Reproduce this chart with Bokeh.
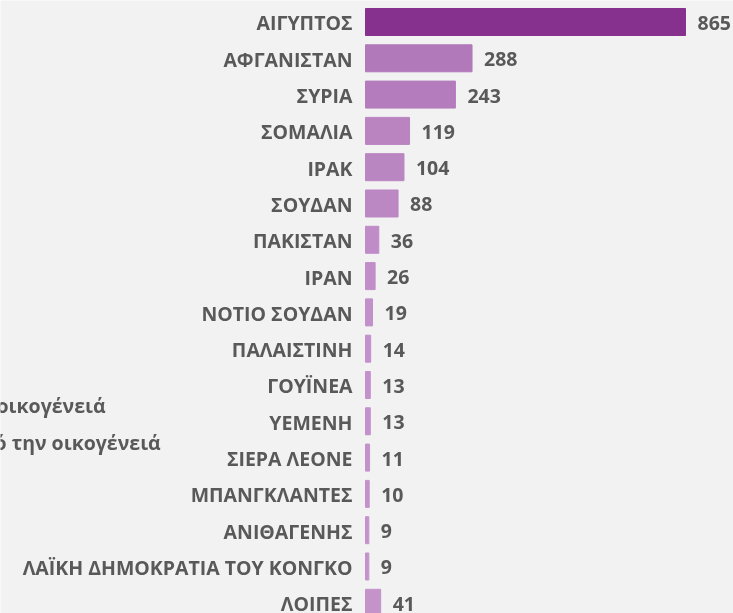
from bokeh.plotting import figure
from bokeh.models import ColumnDataSource, Range1d, Label
from bokeh.core.properties import value
from bokeh.embed import file_html
from bokeh.resources import INLINE

countries = ["ΑΙΓΥΠΤΟΣ", "ΑΦΓΑΝΙΣΤΑΝ", "ΣΥΡΙΑ", "ΣΟΜΑΛΙΑ", "ΙΡΑΚ", "ΣΟΥΔΑΝ",
             "ΠΑΚΙΣΤΑΝ", "ΙΡΑΝ", "ΝΟΤΙΟ ΣΟΥΔΑΝ", "ΠΑΛΑΙΣΤΙΝΗ", "ΓΟΥΪΝΕΑ",
             "ΥΕΜΕΝΗ", "ΣΙΕΡΑ ΛΕΟΝΕ", "ΜΠΑΝΓΚΛΑΝΤΕΣ", "ΑΝΙΘΑΓΕΝΗΣ",
             "ΛΑΪΚΗ ΔΗΜΟΚΡΑΤΙΑ ΤΟΥ ΚΟΝΓΚΟ", "ΛΟΙΠΕΣ"]
counts = [865, 288, 243, 119, 104, 88, 36, 26, 19, 14, 13, 13, 11, 10, 9, 9, 41]
legend_texts = ["οικογένειά", "ό την οικογένειά"]

bar_colors = ["#87318E", "#B279BA", "#B47CBC", "#B984C0", "#BA86C1", "#BB88C3",
              "#C08CC8", "#C18EC9", "#C290CA", "#C391CB", "#C391CB", "#C391CB",
              "#C492CB", "#C492CB", "#C593CC", "#C593CC", "#C393CA"]

TEXT = "#595959"
FONT = value("Open Sans")
FS = "19.5px"

rows = list(range(len(countries)))
src = ColumnDataSource(dict(y=rows, v=counts, name=countries, c=bar_colors,
                            lab=[str(v) for v in counts]))

W, H = 733, 613
p = figure(width=W, height=H, output_backend="svg", toolbar_location=None,
           x_range=Range1d(-986.7, 994.8), y_range=Range1d(16.295, -0.592),
           min_border=0, background_fill_color="#F2F2F2",
           border_fill_color="#F2F2F2", outline_line_color=None,
           styles={"position": "fixed", "left": "0px", "top": "0px"})
p.axis.visible = False
p.grid.visible = False

p.hbar(y="y", left=0, right="v", height=0.744, fill_color="c",
       line_color="c", source=src)

p.text(x=0, y="y", text="name", x_offset=-13, y_offset=1, text_align="right",
       text_baseline="middle", text_font=FONT, text_font_style="bold",
       text_font_size=FS, text_color=TEXT, source=src)
p.text(x="v", y="y", text="lab", x_offset=12, y_offset=1, text_align="left",
       text_baseline="middle", text_font=FONT, text_font_style="bold",
       text_font_size=FS, text_color=TEXT, source=src)

for txt, xs, ys in zip(legend_texts, [-4, -6], [H - 405, H - 442]):
    p.add_layout(Label(x=xs, y=ys, x_units="screen", y_units="screen", text=txt,
                       text_font="Open Sans", text_font_style="bold",
                       text_font_size=FS, text_color=TEXT,
                       text_baseline="alphabetic"))

open("out.html", "w").write(file_html(p, INLINE))
